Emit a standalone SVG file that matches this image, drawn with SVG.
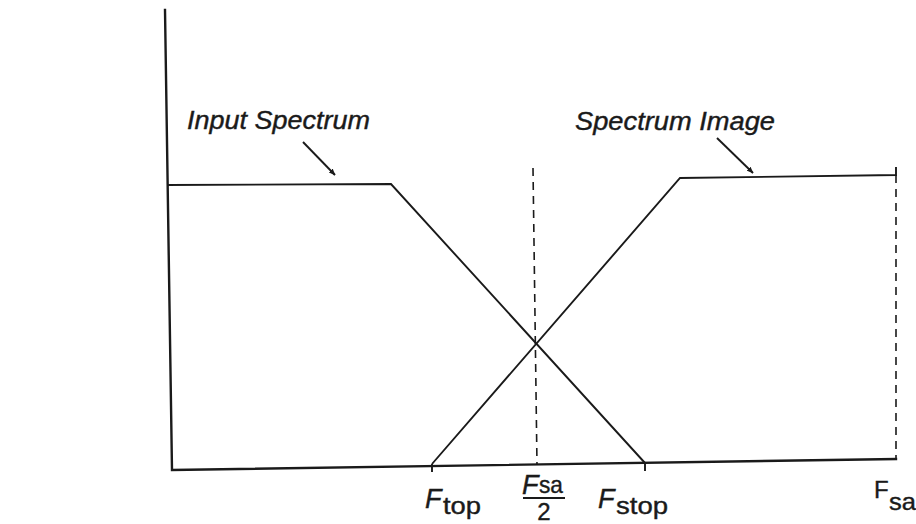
<svg xmlns="http://www.w3.org/2000/svg" width="916" height="524" viewBox="0 0 916 524">
<defs>
<style>
.ax{fill:none;stroke:#1a1a1a;stroke-width:2.4;stroke-linecap:square}
.ln{fill:none;stroke:#1a1a1a;stroke-width:1.9}
.dsh{fill:none;stroke:#1a1a1a;stroke-width:1.6;stroke-dasharray:8 6}
.lbl{font-family:"Liberation Sans",Arial,sans-serif;font-style:italic;font-size:25px;fill:#1a1a1a;stroke:#1a1a1a;stroke-width:0.4}
.F{font-family:"Liberation Sans",Arial,sans-serif;font-style:italic;font-size:27px;fill:#1a1a1a;stroke:#1a1a1a;stroke-width:0.4}
.sub{font-family:"Liberation Sans",Arial,sans-serif;font-size:24px;fill:#1a1a1a;stroke:#1a1a1a;stroke-width:0.4}
</style>
<marker id="ah" viewBox="0 0 10 10" refX="9" refY="5" markerWidth="7" markerHeight="7" orient="auto" markerUnits="userSpaceOnUse">
<path d="M0,1 L10,5 L0,9 z" fill="#1a1a1a"/>
</marker>
</defs>
<rect width="916" height="524" fill="#ffffff"/>
<g id="axes">
<path class="ax" d="M165,10 L172,470 L896,459"/>
</g>
<g id="input-spectrum">
<path class="ln" d="M167,185 L391,184 L645,463"/>
</g>
<g id="spectrum-image">
<path class="ln" d="M432,464 L680,178 L896,175 L896,167"/>
</g>
<g id="guides">
<path class="dsh" d="M533,168 L537,465"/>
<path class="dsh" d="M896,175 L896,459"/>
</g>
<g id="ticks">
<path class="ln" d="M432,464 L432,472 M645,463 L645,471"/>
</g>
<g id="connectors">
<line class="ln" x1="303" y1="142" x2="335" y2="175" marker-end="url(#ah)"/>
<line class="ln" x1="717" y1="138" x2="753" y2="173" marker-end="url(#ah)"/>
</g>
<g id="label-input">
<text class="lbl" x="187" y="129" textLength="183" lengthAdjust="spacingAndGlyphs">Input Spectrum</text>
</g>
<g id="label-image">
<text class="lbl" x="575" y="130" textLength="200" lengthAdjust="spacingAndGlyphs">Spectrum Image</text>
</g>
<g id="label-ftop">
<text class="F" x="425" y="508">F</text>
<text class="sub" x="443" y="514" textLength="38" lengthAdjust="spacingAndGlyphs">top</text>
</g>
<g id="label-fsa2">
<text class="F" x="522" y="494">F</text>
<text class="sub" x="539" y="493" textLength="24" lengthAdjust="spacingAndGlyphs">sa</text>
<line class="ln" x1="523" y1="498" x2="565" y2="498" stroke-width="2"/>
<text class="sub" x="544" y="520" text-anchor="middle" font-size="21">2</text>
</g>
<g id="label-fstop">
<text class="F" x="598" y="508">F</text>
<text class="sub" x="616" y="514" textLength="52" lengthAdjust="spacingAndGlyphs">stop</text>
</g>
<g id="label-fsa">
<text class="sub" x="874" y="498" font-size="26">F</text>
<text class="sub" x="889" y="510" textLength="27" lengthAdjust="spacingAndGlyphs">sa</text>
</g>
</svg>
